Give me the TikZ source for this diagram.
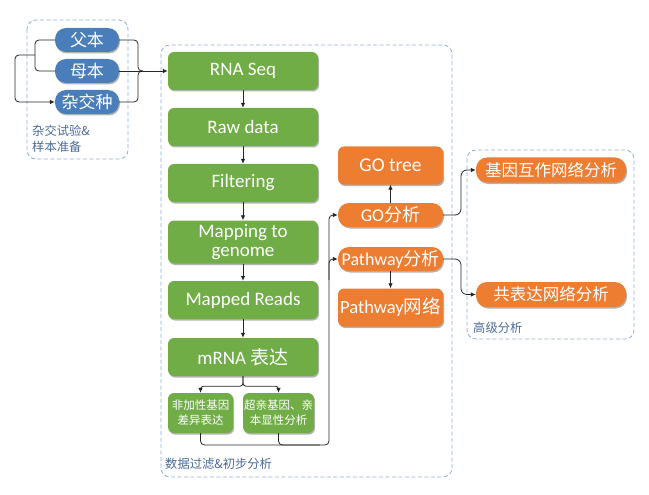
\documentclass[tikz,border=0pt]{standalone}
\usepackage{fontspec}
\setmainfont{Carlito}
\newfontfamily\cjk{Noto Sans CJK SC}
\usetikzlibrary{arrows.meta,shadows}
\definecolor{nblue}{HTML}{4A7EBB}
\definecolor{ngreen}{HTML}{70AD47}
\definecolor{norange}{HTML}{ED7D31}
\definecolor{dashblue}{HTML}{8EB0D6}
\definecolor{lblblue}{HTML}{4A6A9E}
\tikzset{
  shad/.style={drop shadow={shadow xshift=1pt,shadow yshift=-1.5pt,opacity=0.3,fill=black}},
  bluepill/.style={shad,fill=nblue,text=white,rounded corners=11pt,minimum width=64pt,minimum height=24pt,inner sep=0pt,font=\cjk\fontsize{17}{18}\selectfont},
  greenbox/.style={shad,fill=ngreen,text=white,rounded corners=6pt,minimum width=150pt,minimum height=38pt,inner sep=0pt,align=center,font=\fontsize{19}{18.5}\selectfont},
  smallbox/.style={shad,fill=ngreen,text=white,rounded corners=6pt,minimum height=40pt,inner sep=0pt,align=center,font=\cjk\fontsize{11.5}{15}\selectfont},
  orbox/.style={shad,fill=norange,text=white,rounded corners=6pt,minimum width=105pt,minimum height=38pt,inner sep=0pt,align=center,font=\fontsize{19.5}{19}\selectfont},
  orpill/.style={shad,fill=norange,text=white,rounded corners=11pt,minimum width=105pt,minimum height=24pt,inner sep=0pt,font=\fontsize{18}{19}\selectfont},
  advpill/.style={shad,fill=norange,text=white,rounded corners=11pt,minimum width=150pt,minimum height=25pt,inner sep=0pt,font=\cjk\fontsize{16.5}{18}\selectfont},
  groupbox/.style={draw=dashblue,line width=0.8pt,dash pattern=on 4pt off 2.5pt,rounded corners=9pt},
  grouplabel/.style={text=lblblue,inner sep=0pt,align=left,font=\cjk\fontsize{12.3}{16}\selectfont},
  conn/.style={draw=black!85,line width=0.8pt,rounded corners=4pt},
  arr/.style={conn,-{Latex[length=5pt,width=4.5pt]}}
}
\begin{document}
\begin{tikzpicture}[x=1pt,y=-1pt]
\useasboundingbox (0,0) rectangle (649,495);
% group boxes
\draw[groupbox] (27,20) rectangle (128,159);
\draw[groupbox] (161,45) rectangle (452,477);
\draw[groupbox] (467,150) rectangle (634,339);
\node[grouplabel,anchor=north west] (lblA) at (32,125) {杂交试验\&\\样本准备};
\node[grouplabel,anchor=west] (lblB) at (165,464) {数据过滤\&初步分析};
\node[grouplabel,anchor=west] (lblC) at (473,328) {高级分析};
% blue nodes
\node[bluepill] (fu) at (87,40) {父本};
\node[bluepill] (mu) at (87,71) {母本};
\node[bluepill] (za) at (87,102) {杂交种};
% green nodes
\node[greenbox] (rna) at (243,71) {RNA Seq};
\node[greenbox] (raw) at (243,127) {Raw data};
\node[greenbox] (filt) at (243,183) {Filtering};
\node[greenbox,minimum height=43pt] (map) at (243,242) {Mapping to\\genome};
\node[greenbox] (mapped) at (243,300) {Mapped Reads};
\node[greenbox] (mrna) at (243,357) {mRNA {\cjk 表达}};
\node[smallbox,minimum width=65pt] (n1) at (200.5,413) {非加性基因\\差异表达};
\node[smallbox,minimum width=71pt] (n2) at (278.5,413) {超亲基因、亲\\本显性分析};
% orange nodes
\node[orbox] (gotree) at (390.5,165.5) {GO tree};
\node[orpill] (go) at (390.5,215) {GO{\cjk 分析}};
\node[orpill] (pw) at (390.5,259) {Pathway{\cjk 分析}};
\node[orbox,font=\fontsize{18.5}{19}\selectfont] (pwnet) at (390.5,307.5) {Pathway{\cjk 网络}};
\node[advpill] (g1) at (551,170) {基因互作网络分析};
\node[advpill] (g2) at (551,294.5) {共表达网络分析};
% left connectors
\draw[conn] (fu.west) -- (35,40) -- (35,71) -- (mu.west);
\draw[arr] (35,55) -- (15,55) -- (15,102) -- (za.west);
\draw[conn] (fu.east) -- (138,40) -- (138,71) -- (143,71);
\draw[conn] (za.east) -- (138,102) -- (138,71) -- (143,71);
\draw[arr] (mu.east) -- (rna.west);
% main chain
\draw[arr] (rna.south) -- (raw.north);
\draw[arr] (raw.south) -- (filt.north);
\draw[arr] (filt.south) -- (map.north);
\draw[arr] (map.south) -- (mapped.north);
\draw[arr] (mapped.south) -- (mrna.north);
\draw[arr,rounded corners=3pt] (mrna.south) -- ++(0,10) -| (n1.north);
\draw[arr,rounded corners=3pt] (mrna.south) -- ++(0,10) -| (n2.north);
% bottom to analysis
\draw[arr] (n1.south) |- (329,445) -- (329,215) -- (go.west);
\draw[conn] (n2.south) |- (320,445);
\draw[arr] (329,280) -- (329,259) -- (pw.west);
\draw[arr] (go.north) -- (gotree.south);
\draw[arr] (pw.south) -- (pwnet.north);
% advanced
\draw[arr,rounded corners=6pt] (go.east) -- (461,215) -- (461,170) -- (g1.west);
\draw[arr,rounded corners=6pt] (pw.east) -- (461,259) -- (461,294.5) -- (g2.west);
\end{tikzpicture}
\end{document}
